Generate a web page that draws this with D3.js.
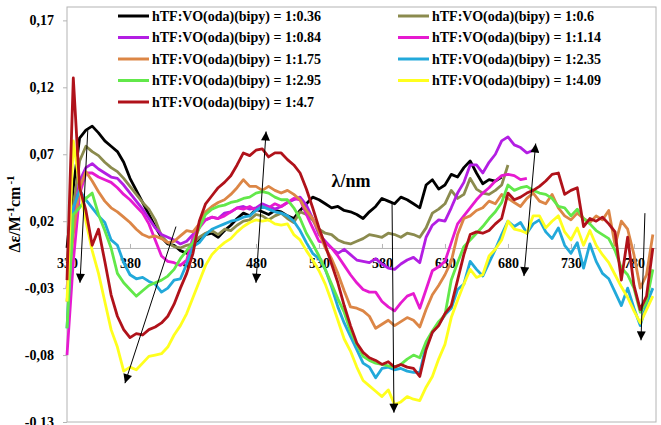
<!DOCTYPE html>
<html>
<head>
<meta charset="utf-8">
<script src="https://cdn.jsdelivr.net/npm/d3@7/dist/d3.min.js"></script>
<style>
  body { margin: 0; background: #fff; }
  svg text { font-family: "Liberation Serif", "Times New Roman", serif; font-weight: bold; }
  .axis path, .axis line { stroke: #b4b4b4; }
  .line { fill: none; stroke-width: 2.8; stroke-linejoin: round; }
</style>
</head>
<body>
<script>
var wavelengths = [330, 335, 340, 345, 350, 355, 360, 365, 370, 375,
    380, 385, 390, 395, 400, 405, 410, 415, 420, 425,
    430, 435, 440, 445, 450, 455, 460, 465, 470, 475,
    480, 485, 490, 495, 500, 505, 510, 515, 520, 525,
    530, 535, 540, 545, 550, 555, 560, 565, 570, 575,
    580, 585, 590, 595, 600, 605, 610, 615, 620, 625,
    630, 635, 640, 645, 650, 655, 660, 665, 670, 675,
    680, 685, 690, 695, 700, 705, 710, 715, 720, 725,
    730, 735, 740, 745, 750, 755, 760, 765, 770, 775,
    780, 785, 790, 795];

var ratio036 = [0.000, 0.045, 0.082, 0.088, 0.091, 0.086, 0.080, 0.076, 0.072, 0.064,
    0.052, 0.043, 0.034, 0.025, 0.016, 0.008, 0.003, 0.002, -0.002, -0.004,
    0.004, 0.006, 0.010, 0.011, 0.008, 0.013, 0.017, 0.022, 0.026, 0.024,
    0.029, 0.027, 0.025, 0.028, 0.027, 0.024, 0.022, 0.028, 0.033, 0.038,
    0.036, 0.033, 0.030, 0.031, 0.028, 0.027, 0.025, 0.022, 0.027, 0.031,
    0.037, 0.035, 0.033, 0.038, 0.036, 0.033, 0.030, 0.047, 0.051, 0.044,
    0.047, 0.055, 0.053, 0.060, 0.065, 0.056, 0.048, 0.051, 0.050, 0.053];

var ratio06 = [-0.010, 0.030, 0.065, 0.076, 0.072, 0.069, 0.064, 0.060, 0.057, 0.052,
    0.046, 0.040, 0.034, 0.029, 0.021, 0.009, 0.004, 0.001, 0.000, 0.002,
    0.003, 0.008, 0.011, 0.013, 0.010, 0.014, 0.013, 0.017, 0.020, 0.021,
    0.025, 0.024, 0.021, 0.024, 0.026, 0.022, 0.019, 0.027, 0.025, 0.021,
    0.014, 0.011, 0.010, 0.006, 0.004, 0.003, 0.005, 0.007, 0.010, 0.009,
    0.008, 0.011, 0.010, 0.008, 0.011, 0.010, 0.008, 0.015, 0.026, 0.029,
    0.033, 0.043, 0.037, 0.040, 0.052, 0.044, 0.041, 0.040, 0.043, 0.047,
    0.062];

var ratio084 = [-0.030, 0.020, 0.050, 0.060, 0.063, 0.059, 0.056, 0.053, 0.052, 0.047,
    0.041, 0.035, 0.029, 0.022, 0.015, 0.010, 0.008, 0.006, 0.003, 0.005,
    0.010, 0.018, 0.021, 0.023, 0.022, 0.026, 0.027, 0.030, 0.031, 0.029,
    0.030, 0.033, 0.031, 0.029, 0.031, 0.034, 0.036, 0.038, 0.032, 0.022,
    0.010, 0.005, 0.000, -0.004, -0.001, -0.005, -0.009, -0.010, -0.011, -0.008,
    -0.012, -0.015, -0.016, -0.012, -0.009, -0.007, -0.011, 0.008, 0.017, 0.021,
    0.020, 0.030, 0.041, 0.049, 0.062, 0.062, 0.056, 0.064, 0.070, 0.080,
    0.083, 0.077, 0.075, 0.071, 0.073];

var ratio114 = [-0.080, -0.010, 0.040, 0.056, 0.056, 0.053, 0.051, 0.049, 0.045, 0.040,
    0.036, 0.031, 0.026, 0.018, 0.006, -0.006, -0.010, -0.011, -0.013, -0.009,
    0.008, 0.015, 0.021, 0.023, 0.022, 0.024, 0.027, 0.030, 0.029, 0.031,
    0.028, 0.031, 0.030, 0.033, 0.031, 0.034, 0.037, 0.036, 0.025, 0.015,
    0.005, 0.004, 0.000, -0.006, -0.013, -0.020, -0.026, -0.031, -0.033, -0.033,
    -0.040, -0.044, -0.047, -0.041, -0.036, -0.034, -0.045, -0.031, -0.017, -0.014,
    -0.010, 0.004, 0.018, 0.024, 0.030, 0.036, 0.041, 0.045, 0.050, 0.054,
    0.055, 0.054, 0.051, 0.052];

var ratio175 = [-0.040, 0.010, 0.045, 0.057, 0.050, 0.042, 0.035, 0.030, 0.027, 0.023,
    0.019, 0.014, 0.010, 0.008, 0.009, 0.007, 0.004, 0.005, 0.009, 0.013,
    0.012, 0.018, 0.027, 0.031, 0.034, 0.036, 0.040, 0.045, 0.051, 0.046,
    0.046, 0.043, 0.046, 0.043, 0.041, 0.043, 0.040, 0.036, 0.028, 0.022,
    0.012, 0.000, -0.008, -0.019, -0.032, -0.044, -0.045, -0.047, -0.051, -0.060,
    -0.057, -0.054, -0.058, -0.055, -0.052, -0.054, -0.059, -0.046, -0.035, -0.028,
    -0.020, -0.010, 0.010, 0.022, 0.024, 0.028, 0.030, 0.035, 0.033, 0.040,
    0.037, 0.034, 0.031, 0.037, 0.041, 0.035, 0.033, 0.040, 0.030, 0.024,
    0.021, 0.026, 0.022, 0.019, 0.024, 0.021, 0.028, 0.002, 0.020, 0.014,
    -0.005, -0.030, -0.020, 0.010];

var ratio235 = [-0.060, 0.030, 0.043, 0.036, 0.030, 0.024, 0.019, 0.006, 0.002, -0.011,
    -0.020, -0.023, -0.022, -0.025, -0.027, -0.033, -0.030, -0.024, -0.023, -0.012,
    0.001, 0.004, 0.010, 0.014, 0.016, 0.018, 0.020, 0.021, 0.023, 0.024,
    0.028, 0.031, 0.029, 0.027, 0.026, 0.024, 0.020, 0.013, 0.004, -0.004,
    -0.008, -0.016, -0.029, -0.044, -0.056, -0.066, -0.076, -0.086, -0.089, -0.097,
    -0.090, -0.089, -0.091, -0.090, -0.092, -0.093, -0.093, -0.073, -0.063, -0.057,
    -0.050, -0.045, -0.031, -0.027, -0.010, -0.016, -0.021, -0.011, -0.001, 0.010,
    0.020, 0.016, 0.019, 0.011, 0.018, 0.021, 0.012, 0.007, 0.015, 0.002,
    -0.004, 0.004, -0.015, 0.003, -0.010, -0.019, -0.023, -0.033, -0.043, -0.030,
    -0.045, -0.058, -0.042, -0.030];

var ratio295 = [-0.060, 0.025, 0.030, 0.037, 0.041, 0.025, 0.013, 0.000, -0.019, -0.026,
    -0.031, -0.036, -0.032, -0.028, -0.026, -0.024, -0.021, -0.016, -0.008, -0.002,
    0.004, 0.015, 0.025, 0.029, 0.031, 0.032, 0.034, 0.035, 0.037, 0.038,
    0.041, 0.042, 0.041, 0.038, 0.036, 0.036, 0.030, 0.022, 0.011, 0.003,
    -0.006, -0.016, -0.027, -0.038, -0.048, -0.062, -0.072, -0.081, -0.084, -0.086,
    -0.087, -0.088, -0.089, -0.087, -0.083, -0.080, -0.082, -0.070, -0.062, -0.055,
    -0.050, -0.024, -0.011, 0.001, 0.006, 0.011, 0.016, 0.022, 0.027, 0.034,
    0.047, 0.043, 0.045, 0.046, 0.043, 0.041, 0.040, 0.037, 0.031, 0.030,
    0.024, 0.029, 0.022, 0.018, 0.013, 0.010, 0.007, -0.002, -0.015, -0.020,
    -0.030, -0.048, -0.040, -0.016];

var ratio409 = [-0.040, 0.080, 0.046, 0.020, -0.002, -0.019, -0.040, -0.061, -0.074, -0.092,
    -0.089, -0.091, -0.086, -0.081, -0.080, -0.079, -0.074, -0.065, -0.058, -0.049,
    -0.037, -0.025, -0.013, -0.005, 0.000, 0.004, 0.007, 0.012, 0.016, 0.019,
    0.021, 0.020, 0.021, 0.018, 0.017, 0.018, 0.010, 0.006, -0.002, -0.009,
    -0.017, -0.027, -0.040, -0.054, -0.068, -0.077, -0.089, -0.099, -0.103, -0.107,
    -0.111, -0.106, -0.117, -0.115, -0.111, -0.113, -0.114, -0.104, -0.096, -0.083,
    -0.072, -0.052, -0.039, -0.027, -0.016, -0.022, -0.020, -0.006, -0.001, 0.006,
    0.020, 0.014, 0.013, 0.011, 0.024, 0.024, 0.015, 0.020, 0.024, 0.012,
    0.006, 0.015, 0.002, 0.013, 0.002, -0.005, -0.011, -0.020, -0.029, -0.037,
    -0.047, -0.056, -0.046, -0.036];

var ratio47 = [-0.024, 0.127, 0.045, 0.028, 0.002, 0.014, -0.010, -0.035, -0.051, -0.061,
    -0.067, -0.064, -0.065, -0.061, -0.059, -0.056, -0.051, -0.042, -0.030, -0.019,
    -0.004, 0.020, 0.033, 0.039, 0.045, 0.049, 0.054, 0.062, 0.071, 0.069,
    0.073, 0.074, 0.068, 0.071, 0.071, 0.066, 0.062, 0.056, 0.044, 0.030,
    0.015, 0.002, -0.012, -0.026, -0.043, -0.058, -0.071, -0.078, -0.082, -0.084,
    -0.087, -0.085, -0.089, -0.087, -0.089, -0.090, -0.096, -0.076, -0.063, -0.058,
    -0.049, -0.043, -0.024, -0.005, 0.010, 0.012, 0.011, 0.013, 0.018, 0.022,
    0.041, 0.036, 0.038, 0.041, 0.043, 0.046, 0.050, 0.055, 0.056, 0.040,
    0.043, 0.045, 0.016, 0.022, 0.020, 0.023, 0.018, 0.012, -0.024, 0.008,
    -0.028, -0.046, -0.036, 0.000];

var seriesNames = ["hTF:VO(oda)(bipy) = 1:0.36", "hTF:VO(oda)(bipy) = 1:0.6",
    "hTF:VO(oda)(bipy) = 1:0.84", "hTF:VO(oda)(bipy) = 1:1.14",
    "hTF:VO(oda)(bipy) = 1:1.75", "hTF:VO(oda)(bipy) = 1:2.35",
    "hTF:VO(oda)(bipy) = 1:2.95", "hTF:VO(oda)(bipy) = 1:4.09",
    "hTF:VO(oda)(bipy) = 1:4.7"];
var seriesValues = [ratio036, ratio06, ratio084, ratio114, ratio175, ratio235, ratio295, ratio409, ratio47];
var seriesColors = ["#000000", "#8b8b4e", "#b31ee3", "#e61ad0", "#dc8646",
    "#22a9da", "#62e84a", "#ffff1e", "#b0121a"];

var xTicks = [330, 380, 430, 480, 530, 580, 630, 680, 730, 780];
var yTicks = [-0.13, -0.08, -0.03, 0.02, 0.07, 0.12, 0.17];

// trend arrows [from nm, from value, to nm, to value, double headed]
var arrows = [
    [346.5, 0.088, 340.3, -0.026, false],
    [416.5, 0.016, 376, -0.101, false],
    [480, -0.026, 488, 0.087, true],
    [588, 0.034, 589.5, -0.123, false],
    [692.7, -0.021, 702, 0.078, true],
    [788.7, 0.026, 785.6, -0.069, false]
];

var width = 661, height = 425;
var plot = {left: 67, top: 7, right: 656, bottom: 422};

var svg = d3.select("body").append("svg")
    .attr("width", width)
    .attr("height", height);

var xScale = d3.scaleLinear()
    .domain([330, 797.5])
    .range([plot.left, plot.right]);

var yScale = d3.scaleLinear()
    .domain([-0.13, 0.18])
    .range([plot.bottom, plot.top]);

svg.append("rect")
    .attr("x", plot.left)
    .attr("y", plot.top)
    .attr("width", plot.right - plot.left)
    .attr("height", plot.bottom - plot.top)
    .attr("fill", "none")
    .attr("stroke", "#b4b4b4");

svg.append("g")
    .attr("class", "axis")
    .attr("transform", "translate(0," + yScale(0) + ")")
    .call(d3.axisBottom(xScale).tickValues(xTicks).tickSizeInner(-4).tickSizeOuter(0).tickPadding(10))
    .call(function(g) { g.selectAll("text").attr("fill", "#000").style("font-size", "14px"); });

svg.append("g")
    .attr("class", "axis")
    .attr("transform", "translate(" + plot.left + ",0)")
    .call(d3.axisLeft(yScale).tickValues(yTicks).tickSizeInner(4).tickSizeOuter(0).tickPadding(9)
        .tickFormat(function(d) { return d.toFixed(2).replace(".", ","); }))
    .call(function(g) {
        g.select(".domain").remove();
        g.selectAll("text").attr("fill", "#000").style("font-size", "14px");
    });

var line = d3.line()
    .x(function(d) { return xScale(d.nm); })
    .y(function(d) { return yScale(d.value); });

var series = seriesValues.map(function(vals, i) {
    return {
        name: seriesNames[i],
        color: seriesColors[i],
        values: vals.map(function(v, j) { return {nm: wavelengths[j], value: v}; })
    };
});

svg.selectAll(".line")
    .data(series)
    .enter()
    .append("path")
    .attr("class", "line")
    .attr("d", function(d) { return line(d.values); })
    .attr("stroke", function(d) { return d.color; });

// arrows
var defs = svg.append("defs");
defs.append("marker")
    .attr("id", "head")
    .attr("viewBox", "0 0 10 10")
    .attr("refX", 10).attr("refY", 5)
    .attr("markerUnits", "userSpaceOnUse")
    .attr("markerWidth", 10).attr("markerHeight", 9)
    .attr("orient", "auto-start-reverse")
    .append("path")
    .attr("d", "M0,0L10,5L0,10z")
    .attr("fill", "#000");

svg.selectAll(".arrow")
    .data(arrows)
    .enter()
    .append("line")
    .attr("class", "arrow")
    .attr("x1", function(d) { return xScale(d[0]); })
    .attr("y1", function(d) { return yScale(d[1]); })
    .attr("x2", function(d) { return xScale(d[2]); })
    .attr("y2", function(d) { return yScale(d[3]); })
    .attr("stroke", "#000")
    .attr("stroke-width", 1)
    .attr("marker-end", "url(#head)")
    .attr("marker-start", function(d) { return d[4] ? "url(#head)" : null; });

// legend
var legendX = [118, 398];
var legend = svg.selectAll(".legend")
    .data(series)
    .enter()
    .append("g")
    .attr("class", "legend")
    .attr("transform", function(d, i) {
        return "translate(" + legendX[i % 2] + "," + (16 + Math.floor(i / 2) * 21.5) + ")";
    });

legend.append("line")
    .attr("x1", 0).attr("x2", 31)
    .attr("stroke", function(d) { return d.color; })
    .attr("stroke-width", 3);

legend.append("text")
    .attr("x", 34)
    .attr("dy", "0.35em")
    .style("font-size", "14px")
    .text(function(d) { return d.name; });

svg.append("text")
    .attr("x", xScale(540))
    .attr("y", 187)
    .style("font-size", "18px")
    .text("λ/nm");

var ytitle = svg.append("text")
    .attr("transform", "translate(20,214) rotate(-90)")
    .attr("text-anchor", "middle")
    .style("font-size", "16px");
ytitle.append("tspan").text("Δε/M");
ytitle.append("tspan").attr("dy", -6).style("font-size", "11px").text("-1");
ytitle.append("tspan").attr("dy", 6).text("cm");
ytitle.append("tspan").attr("dy", -6).attr("dx", 2).style("font-size", "11px").text("-1");
</script>
</body>
</html>
